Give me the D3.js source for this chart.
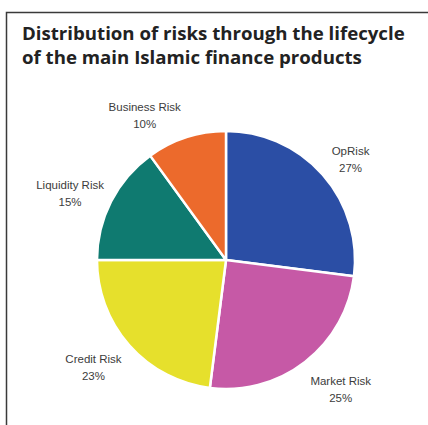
<!DOCTYPE html>
<html>
<head>
<meta charset="utf-8">
<script src="https://cdn.jsdelivr.net/npm/d3@7"></script>
<style>
  html, body { margin: 0; padding: 0; background: #fff; }
  .chart { width: 428px; height: 425px; }
</style>
</head>
<body>
<div class="chart"></div>
<script>
// data
const categories = ["OpRisk", "Market Risk", "Credit Risk", "Liquidity Risk", "Business Risk"];
const shares = [27, 25, 23, 15, 10];
const colors = ["#2b4ea5", "#c659a6", "#e6e02c", "#0f7a70", "#ec6a2c"];
const titleLines = ["Distribution of risks through the lifecycle", "of the main Islamic finance products"];

const config = {
  svgW: 428,
  svgH: 425,
  cx: 226,
  cy: 260,
  outerRadius: 129,
  labelRadius: 166
};

// small nudges so labels sit where the original puts them
const labelNudge = {
  "OpRisk": [0, 9],
  "Market Risk": [13, -2],
  "Credit Risk": [-8, -3],
  "Liquidity Risk": [-8, 8],
  "Business Risk": [-30, 13]
};

const svg = d3.select('.chart').append('svg')
  .attr('width', config.svgW)
  .attr('height', config.svgH)
  .attr('viewBox', `0 0 ${config.svgW} ${config.svgH}`);

// frame: top and left rule
svg.append('path')
  .attr('d', `M6.5,${config.svgH} V12.5 H${config.svgW}`)
  .attr('fill', 'none')
  .attr('stroke', '#3a3a3a')
  .attr('stroke-width', 1.5);

// title
const title = svg.append('text')
  .attr('x', 22)
  .attr('font-family', '"Open Sans", "Noto Sans", sans-serif')
  .attr('font-weight', 'bold')
  .attr('font-size', 17)
  .attr('fill', '#222');
titleLines.forEach(function(t, i) {
  title.append('tspan')
    .attr('x', 22)
    .attr('y', 40 + i * 24)
    .text(t);
});
// fit the first line to the width seen in the original
const firstW = title.select('tspan').node().getComputedTextLength();
title.attr('font-size', 17 * 383 / firstW);

// pie
const data = categories.map(function(c, i) {
  return { name: c, value: shares[i], color: colors[i] };
});
const pie = d3.pie().sort(null).value(function(d) { return d.value; })(data);
const arc = d3.arc().innerRadius(0).outerRadius(config.outerRadius);
const labelArc = d3.arc().innerRadius(config.labelRadius).outerRadius(config.labelRadius);

const g = svg.append('g')
  .attr('transform', `translate(${config.cx},${config.cy})`);

g.selectAll('path.slice')
  .data(pie)
  .enter()
  .append('path')
  .attr('class', 'slice')
  .attr('d', arc)
  .attr('fill', function(d) { return d.data.color; })
  .attr('stroke', '#fff')
  .attr('stroke-width', 2.5)
  .attr('stroke-linejoin', 'round');

const labels = g.selectAll('text.label')
  .data(pie)
  .enter()
  .append('text')
  .attr('class', 'label')
  .attr('text-anchor', 'middle')
  .attr('font-family', '"Liberation Sans", Arial, sans-serif')
  .attr('font-size', 11.5)
  .attr('fill', '#3c3c3c')
  .attr('transform', function(d) {
    const c = labelArc.centroid(d);
    const n = labelNudge[d.data.name] || [0, 0];
    return `translate(${c[0] + n[0]},${c[1] + n[1]})`;
  });
labels.append('tspan')
  .attr('x', 0)
  .attr('y', -4)
  .text(function(d) { return d.data.name; });
labels.append('tspan')
  .attr('x', 0)
  .attr('y', 13)
  .text(function(d) { return d.data.value + '%'; });
</script>
</body>
</html>
